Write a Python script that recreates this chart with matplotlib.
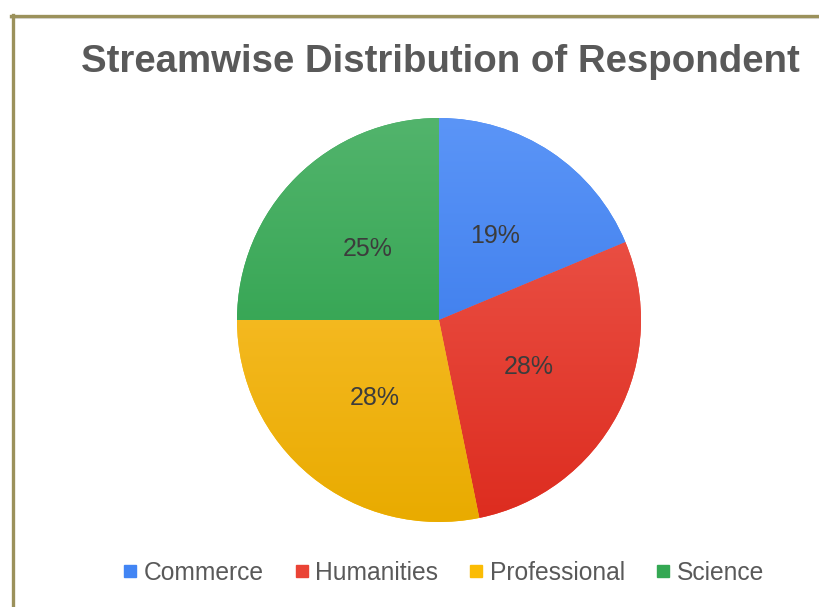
import numpy as np
import matplotlib.pyplot as plt
from matplotlib.colors import LinearSegmentedColormap
from matplotlib.lines import Line2D

# data
streams = ['Commerce', 'Humanities', 'Professional', 'Science']
shares = [18.7, 28.1, 28.2, 25.0]
top_colors = ['#5b95f7', '#ef5d52', '#ffc63f', '#52b46c']
bottom_colors = ['#2c6fe6', '#dd2c1f', '#e9ab00', '#1f9a40']
legend_colors = ['#4285f4', '#ea4335', '#fbbc04', '#34a853']

plt.rcParams['font.family'] = ['Liberation Sans', 'DejaVu Sans']

fig = plt.figure(figsize=(8.19, 6.07), dpi=100)
W, H = 819, 607

# olive frame on top and left
fig.add_artist(Line2D([11 / W, 1], [1 - 18 / H, 1 - 18 / H], color='#dcdcdc', lw=1.5))
fig.add_artist(Line2D([11 / W, 1], [1 - 15.5 / H, 1 - 15.5 / H], color='#9b915b', lw=2.4))
fig.add_artist(Line2D([12.5 / W, 12.5 / W], [0, 1 - 14.5 / H], color='#9b915b', lw=2.4))

cx, cy, r = 439, 320, 202
lim = 1.05
size = 2 * lim * r
ax = fig.add_axes([cx / W - size / 2 / W, 1 - cy / H - size / 2 / H, size / W, size / H])

wedges, texts, autotexts = ax.pie(shares, startangle=90, counterclock=False,
                                  colors=legend_colors, autopct='%1.0f%%',
                                  pctdistance=0.5, radius=1,
                                  textprops={'fontsize': 18, 'color': '#3c3c3c'})

# vertical gradient inside each wedge
grad = np.linspace(0, 1, 256).reshape(-1, 1)
for w, c_top, c_bot in zip(wedges, top_colors, bottom_colors):
    cmap = LinearSegmentedColormap.from_list('g', [c_top, c_bot])
    im = ax.imshow(grad, cmap=cmap, extent=[-1, 1, -1, 1], origin='upper',
                   aspect='auto', zorder=w.get_zorder() + 0.1)
    im.set_clip_path(w)
for t in autotexts:
    t.set_zorder(5)

ax.set_xlim(-lim, lim)
ax.set_ylim(-lim, lim)
ax.set_aspect('equal')
ax.axis('off')

fig.text(440 / W, 1 - 62 / H, 'Streamwise Distribution of Respondent',
         ha='center', va='center', fontsize=27.6, fontweight='bold', color='#595959')

handles = [Line2D([], [], marker='s', ls='', markersize=8, color=c) for c in legend_colors]
fig.legend(handles, streams, loc='center', bbox_to_anchor=(444 / W, 1 - 573 / H),
           ncol=4, frameon=False, fontsize=17.7, handlelength=0.5, handletextpad=0.3,
           columnspacing=1.3, labelcolor='#595959')

fig.savefig('out.png', dpi=100)
